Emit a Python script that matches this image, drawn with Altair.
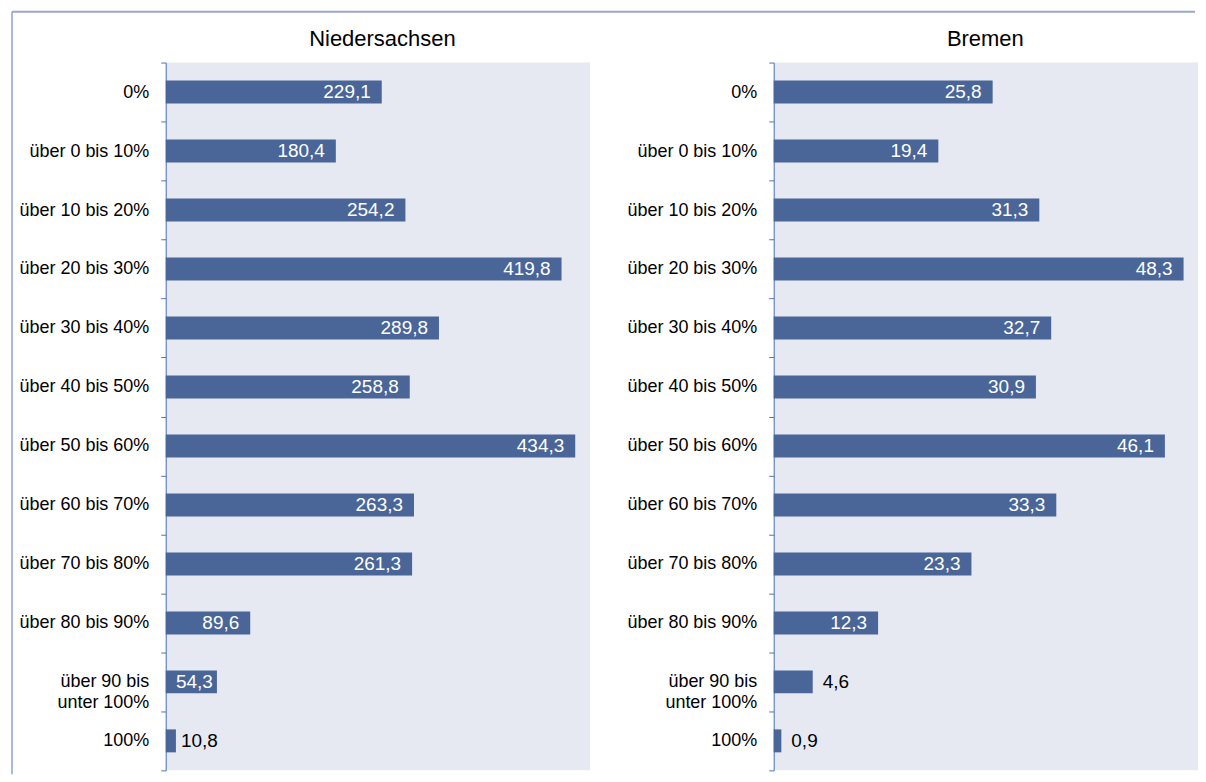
import altair as alt
import pandas as pd

categories = [
    "0%", "über 0 bis 10%", "über 10 bis 20%", "über 20 bis 30%",
    "über 30 bis 40%", "über 40 bis 50%", "über 50 bis 60%",
    "über 60 bis 70%", "über 70 bis 80%", "über 80 bis 90%",
    "über 90 bis|unter 100%", "100%",
]
niedersachsen = [229.1, 180.4, 254.2, 419.8, 289.8, 258.8, 434.3, 263.3, 261.3, 89.6, 54.3, 10.8]
bremen = [25.8, 19.4, 31.3, 48.3, 32.7, 30.9, 46.1, 33.3, 23.3, 12.3, 4.6, 0.9]
panel_titles = ["Niedersachsen", "Bremen"]

FONT = "Liberation Sans"
BAR = "#4A6699"
AXIS = "#5073B3"
FRAME = "#97A8C8"
W = 425


def panel(values, xmax, title, out_dx, title_x, frame=False):
    df = pd.DataFrame({"cat": categories, "v": values})
    upp = xmax / W  # data units per pixel
    base = alt.Chart(df).transform_calculate(
        lab="replace(format(datum.v, '.1f'), '.', ',')",
        frac=f"datum.v / {xmax}",
    ).transform_calculate(
        lx=f"max(datum.v - 11 * {upp}, (10 + 9.3 * length(datum.lab)) * {upp})"
    )
    y = alt.Y(
        "cat:N", sort=categories, title=None,
        scale=alt.Scale(paddingInner=0, paddingOuter=0),
        axis=alt.Axis(
            domainColor=AXIS, tickColor=AXIS, tickSize=5, tickBand="extent",
            labelPadding=12, labelFontSize=18, labelFont=FONT, labelColor="black",
            labelLimit=250, labelExpr="split(datum.label, '|')", labelLineHeight=21,
            grid=False, domainWidth=1, tickWidth=1,
        ),
    )
    xscale = alt.Scale(domain=[0, xmax], nice=False, zero=True)
    x = alt.X("v:Q", scale=xscale, axis=None)
    bars = base.mark_bar(size=23, color=BAR).encode(x=x, y=y)
    inside = base.transform_filter("datum.frac >= 0.1").mark_text(
        align="right", color="white", font=FONT, fontSize=19, baseline="middle"
    ).encode(x=alt.X("lx:Q", scale=xscale, axis=None), y=y, text="lab:N")
    outside = base.transform_filter("datum.frac < 0.1").mark_text(
        align="left", dx=out_dx, color="black", font=FONT, fontSize=19, baseline="middle"
    ).encode(x=x, y=y, text="lab:N")
    tdf = pd.DataFrame({"t": [title]})
    ttl = alt.Chart(tdf).mark_text(
        font=FONT, fontSize=22, color="black", align="center", baseline="alphabetic"
    ).encode(x=alt.value(title_x), y=alt.value(-17), text="t:N")
    layers = [bars, inside, outside, ttl]
    if frame:
        dummy = alt.Chart(pd.DataFrame({"a": [0]}))
        top = dummy.mark_rule(color=FRAME, strokeWidth=2).encode(
            x=alt.value(-154), x2=alt.value(1031), y=alt.value(-51)
        )
        left = dummy.mark_rule(color="#8FA3CB", strokeWidth=1.5).encode(
            x=alt.value(-154), y=alt.value(-51), y2=alt.value(713)
        )
        layers += [top, left]
    return alt.layer(*layers).properties(width=W, height=709)


chart = alt.hconcat(
    panel(niedersachsen, 450, panel_titles[0], 5, 217, frame=True),
    panel(bremen, 50, panel_titles[1], 10, 212),
    spacing=184, bounds="flush",
).properties(
    padding={"left": 3, "top": 2, "right": 0, "bottom": 0}
).configure_view(fill="#E6E9F2", stroke=None)

chart.save("out.html", embed_options={"renderer": "svg", "actions": False})
